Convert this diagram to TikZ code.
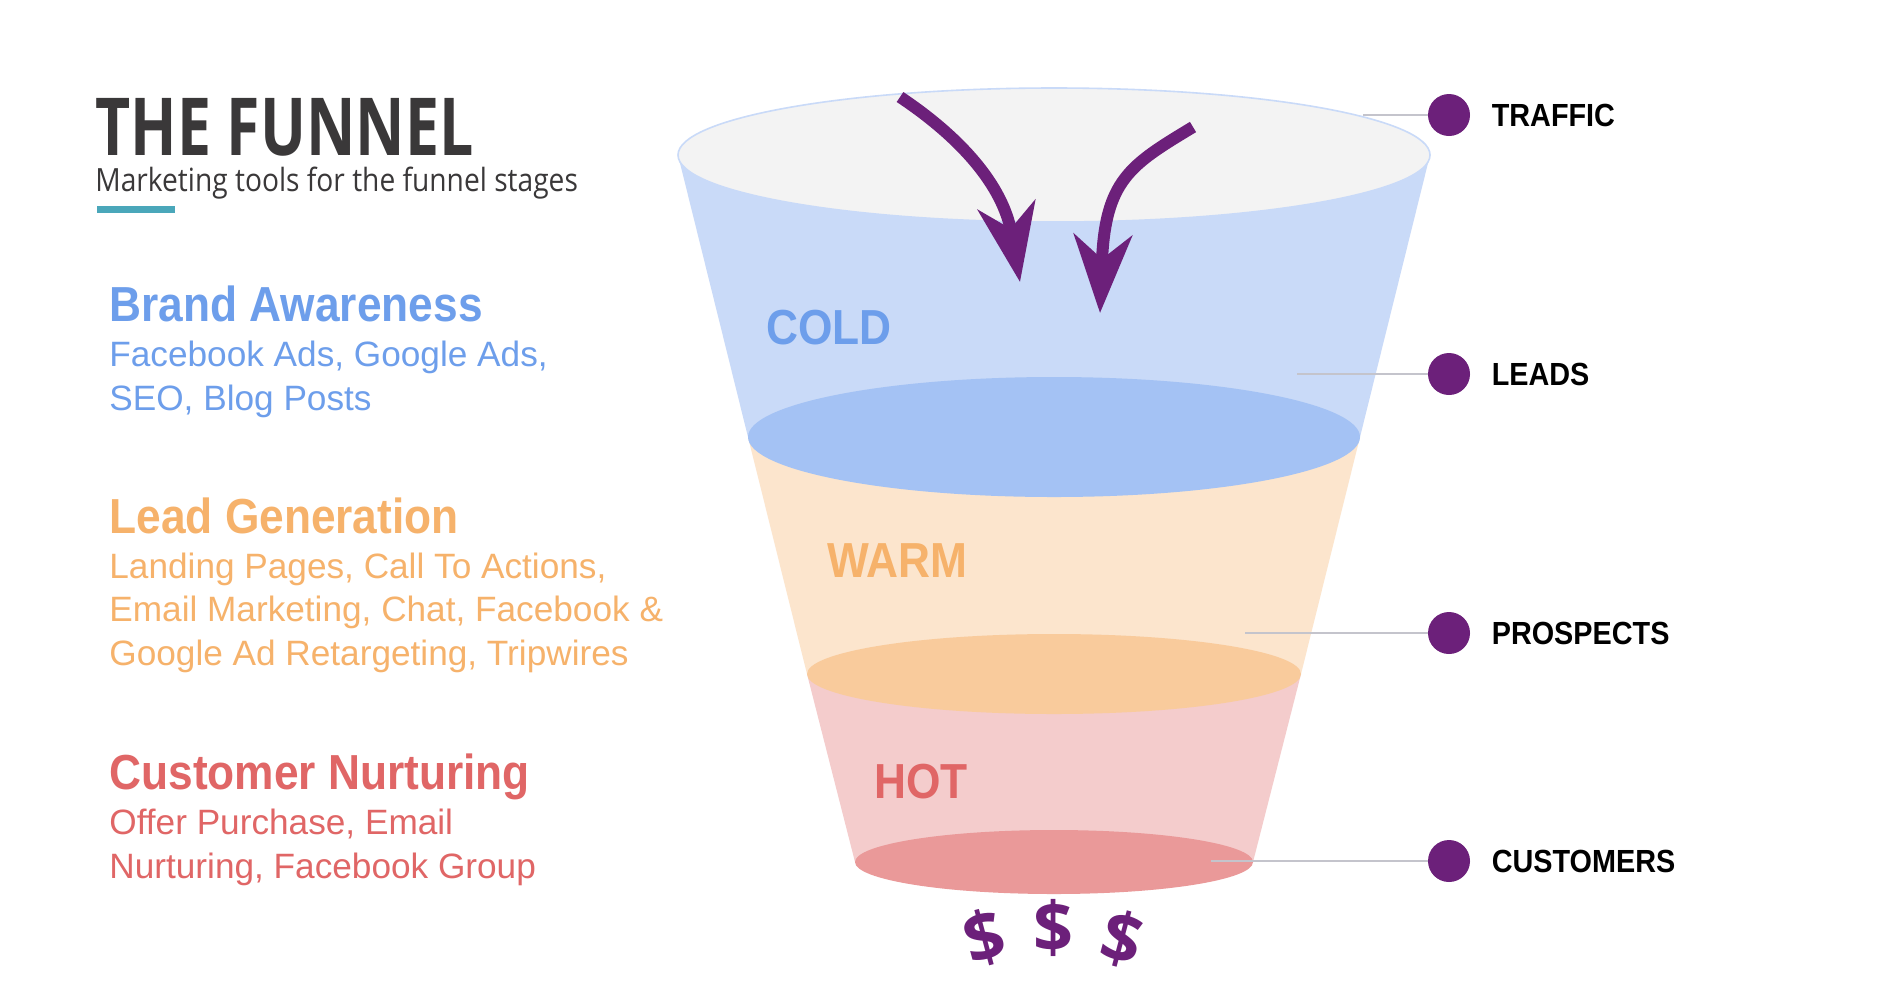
\documentclass[tikz,border=0pt]{standalone}
\usepackage{fontspec}
\setmainfont{Liberation Sans}[FakeStretch=0.9]
\newfontfamily\bodyfont{Liberation Sans}
\newfontfamily\headfont{Open Sans}[FakeStretch=0.76]
\newfontfamily\subfont{Open Sans}[FakeStretch=0.88]
\newfontfamily\buckfont{Open Sans}
\usetikzlibrary{arrows.meta,positioning}
\usepackage{xcolor}
\definecolor{InkGray}{HTML}{3A3839}
\definecolor{Teal}{HTML}{4AA7BA}
\definecolor{FunnelPurple}{HTML}{6C207A}
\definecolor{ColdText}{HTML}{6D9EEB}
\definecolor{ColdBand}{HTML}{C9DAF8}
\definecolor{ColdRim}{HTML}{A4C2F4}
\definecolor{WarmText}{HTML}{F6B26B}
\definecolor{WarmBand}{HTML}{FCE5CD}
\definecolor{WarmRim}{HTML}{F9CB9C}
\definecolor{HotText}{HTML}{E06666}
\definecolor{HotBand}{HTML}{F4CCCC}
\definecolor{HotRim}{HTML}{EA9999}
\definecolor{TopFill}{HTML}{F3F3F3}
\definecolor{LeaderGray}{HTML}{C4C4CC}

\begin{document}
\begin{tikzpicture}[x=0.5pt,y=-0.5pt,
  txt/.style={inner sep=0pt,anchor=base west,align=left},
  headtxt/.style={txt,font=\fontsize{24.6}{24.6}\selectfont\bfseries},
  bodytxt/.style={txt,font=\bodyfont\fontsize{17.6}{21.75}\selectfont},
  zonetxt/.style={txt,font=\fontsize{24.6}{24.6}\selectfont\bfseries},
  stagedot/.style={circle,fill=FunnelPurple,minimum size=21pt,inner sep=0pt},
  stagetxt/.style={inner sep=0pt,font=\fontsize{16}{16}\selectfont\bfseries},
  leader/.style={draw=LeaderGray,line width=0.6pt},
  flow/.style={FunnelPurple,line width=6pt,-{Stealth[length=39pt,width=29pt,inset=12pt]}},
  buck/.style={inner sep=0pt,text=FunnelPurple,font=\buckfont\fontsize{35}{35}\selectfont\bfseries}]
\useasboundingbox[fill=white] (0,0) rectangle (1904,982);

% left column
\node[txt,text depth=0pt,text=InkGray,font=\headfont\bfseries\fontsize{40}{40}\selectfont] (title) at (95,155) {THE FUNNEL};
\node[txt,text=InkGray,font=\subfont\fontsize{16}{16}\selectfont] (subtitle) at (95,191) {Marketing tools for the funnel stages};
\fill[Teal] (97,206) rectangle (175,213);

% body nodes sit on the baseline of their last line
\node[headtxt,text=ColdText] (brandHead) at (109,321) {Brand Awareness};
\node[bodytxt,text=ColdText] (brandBody) at (109,410) {Facebook Ads, Google Ads,\\SEO, Blog Posts};
\node[headtxt,text=WarmText] (leadHead) at (109,533) {Lead Generation};
\node[bodytxt,text=WarmText] (leadBody) at (109,665) {Landing Pages, Call To Actions,\\Email Marketing, Chat, Facebook \&\\Google Ad Retargeting, Tripwires};
\node[headtxt,text=HotText] (nurtHead) at (109,789) {Customer Nurturing};
\node[bodytxt,text=HotText] (nurtBody) at (109,878) {Offer Purchase, Email\\Nurturing, Facebook Group};

% funnel bands
\fill[ColdBand] (678,155) -- (1430,155) -- (1360,437) -- (748,437) -- cycle;
\fill[WarmBand] (748,437) -- (1360,437) -- (1301,674) -- (807,674) -- cycle;
\fill[HotBand] (807,674) -- (1301,674) -- (1253,862) -- (855,862) -- cycle;
\filldraw[fill=TopFill,draw=ColdBand,line width=0.8pt] (1054,155) ellipse [x radius=376,y radius=67];
\fill[ColdRim] (1054,437) ellipse [x radius=306,y radius=60];
\fill[WarmRim] (1054,674) ellipse [x radius=247,y radius=40];
\fill[HotRim] (1054,862) ellipse [x radius=199,y radius=32];

\node[zonetxt,text=ColdText] (cold) at (766,344) {COLD};
\node[zonetxt,text=WarmText] (warm) at (827,577) {WARM};
\node[zonetxt,text=HotText] (hot) at (874,798) {HOT};

% traffic arrows
\coordinate (inA) at (900,97);
\coordinate (outA) at (1020,282);
\coordinate (inB) at (1193,127);
\coordinate (outB) at (1100,313);
\draw[flow] (inA) .. controls (960,137) and (1003,185) .. (outA);
\draw[flow] (inB) .. controls (1130,165) and (1105,180) .. (outB);

% stages
\node[stagedot] (dTraffic) at (1449,115) {};
\node[stagedot] (dLeads) at (1449,374) {};
\node[stagedot] (dProspects) at (1449,633) {};
\node[stagedot] (dCustomers) at (1449,861) {};
\node[stagetxt,right=10.5pt of dTraffic] (lTraffic) {TRAFFIC};
\node[stagetxt,right=10.5pt of dLeads] (lLeads) {LEADS};
\node[stagetxt,right=10.5pt of dProspects] (lProspects) {PROSPECTS};
\node[stagetxt,right=10.5pt of dCustomers] (lCustomers) {CUSTOMERS};
\coordinate (tTraffic) at (1363,115);
\coordinate (tLeads) at (1297,374);
\coordinate (tProspects) at (1245,633);
\coordinate (tCustomers) at (1211,861);
\draw[leader] (tTraffic) -- (dTraffic);
\draw[leader] (tLeads) -- (dLeads);
\draw[leader] (tProspects) -- (dProspects);
\draw[leader] (tCustomers) -- (dCustomers);

% money out
\node[buck,rotate=15] (buckL) at (984,938) {\$};
\node[buck] (buckM) at (1053,928) {\$};
\node[buck,rotate=-15] (buckR) at (1122,939) {\$};
\end{tikzpicture}
\end{document}
